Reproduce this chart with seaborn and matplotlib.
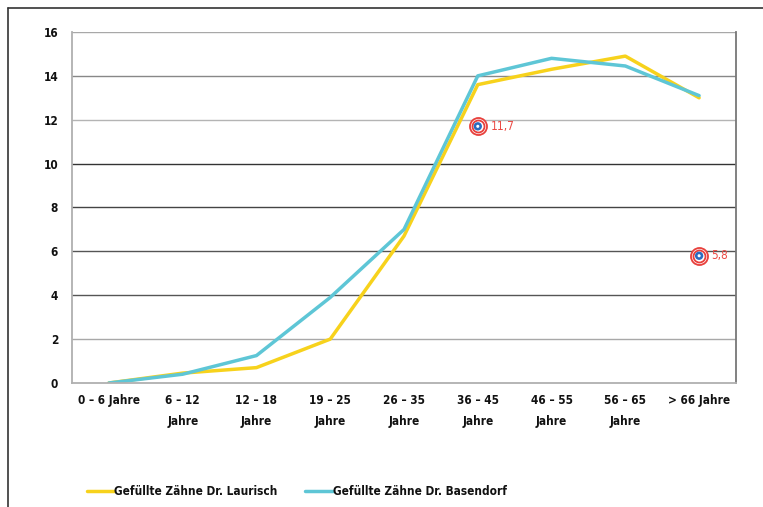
import matplotlib
matplotlib.use("Agg")
import matplotlib.pyplot as plt
from matplotlib.lines import Line2D
import seaborn as sns
import pandas as pd

# Age groups and filled-teeth averages per practice
age_groups = ["0 – 6 Jahre", "6 – 12\nJahre", "12 – 18\nJahre", "19 – 25\nJahre",
              "26 – 35\nJahre", "36 – 45\nJahre", "46 – 55\nJahre", "56 – 65\nJahre",
              "> 66 Jahre"]
laurisch = [0.0, 0.45, 0.7, 2.0, 6.7, 13.6, 14.3, 14.9, 13.0]
basendorf = [0.0, 0.4, 1.25, 3.9, 7.0, 14.0, 14.8, 14.45, 13.1]
series_names = ["Gefüllte Zähne Dr. Laurisch", "Gefüllte Zähne Dr. Basendorf"]

# Reference values highlighted on the chart
ref_groups = ["36 – 45\nJahre", "> 66 Jahre"]
ref_values = [11.7, 5.8]
ref_labels = ["11,7", "5,8"]

y_ticks = [0, 2, 4, 6, 8, 10, 12, 14, 16]

sns.set_style("white")
FONT = ["DejaVu Sans", "Liberation Sans"]
plt.rcParams["font.family"] = FONT
plt.rcParams["font.stretch"] = "condensed"
TXT = "#111111"

df = pd.DataFrame({
    "Altersgruppe": age_groups * 2,
    "Wert": laurisch + basendorf,
    "Serie": [series_names[0]] * len(age_groups) + [series_names[1]] * len(age_groups),
})

fig = plt.figure(figsize=(7.63, 5.07), dpi=100)
ax = fig.add_axes([0.0944, 0.2446, 0.8702, 0.6923])

palette = {series_names[0]: "#f7d21c", series_names[1]: "#5ec6d6"}
sns.lineplot(data=df, x="Altersgruppe", y="Wert", hue="Serie", palette=palette,
             sort=False, linewidth=2.5, ax=ax, legend=False)

# Horizontal gridlines with the uneven grey tones of the original
grid_colors = {2: "#a8a8a8", 4: "#555555", 6: "#555555", 8: "#444444",
               10: "#333333", 12: "#b4b4b4", 14: "#888888", 16: "#a8a8a8"}
for yv, col in grid_colors.items():
    ax.axhline(yv, color=col, linewidth=1.0, zorder=0)

# Highlighted reference markers: red rings around a blue dot
ref_pos = [age_groups.index(g) for g in ref_groups]
for x, y, lab in zip(ref_pos, ref_values, ref_labels):
    ax.scatter([x], [y], s=150, facecolor="white", edgecolor="#e8403c", linewidth=1.3, zorder=5)
    ax.scatter([x], [y], s=75, facecolor="white", edgecolor="#e8403c", linewidth=1.3, zorder=6)
    ax.scatter([x], [y], s=36, facecolor="#2a6cc0", edgecolor="none", zorder=7)
    ax.scatter([x], [y], s=5, facecolor="white", edgecolor="none", zorder=8)
    ax.annotate(lab, (x, y), xytext=(9, 0), textcoords="offset points", va="center",
                ha="left", color="#ec4a44", fontsize=8.5)

ax.set_xlim(-0.5, len(age_groups) - 0.5)
ax.set_ylim(0, 16)
ax.set_yticks(y_ticks)
ax.set_yticklabels([str(v) for v in y_ticks], fontsize=8.5, fontweight="bold", color=TXT)
ax.set_xticks(range(len(age_groups)))
ax.set_xticklabels(age_groups, fontsize=8.5, fontweight="bold", linespacing=1.75, color=TXT)
ax.set_xticks([i - 0.5 for i in range(len(age_groups) + 1)], minor=True)
ax.tick_params(axis="x", which="major", length=0, pad=8)
ax.tick_params(axis="x", which="minor", length=4, color="#888888", width=1)
ax.tick_params(axis="y", length=4, color="#999999", width=1, pad=6)
ax.set_xlabel("")
ax.set_ylabel("")

for side in ["left", "bottom"]:
    ax.spines[side].set_color("#b0b0b0")
    ax.spines[side].set_linewidth(1.3)
ax.spines["top"].set_visible(False)
ax.spines["right"].set_color("#777777")
ax.spines["right"].set_linewidth(1.3)

# Legend below the chart
handles = [Line2D([], [], color=palette[n], linewidth=2.5) for n in series_names]
leg = fig.legend(handles, series_names, loc="center left", bbox_to_anchor=(0.0996, 0.03),
                 ncol=2, frameon=False, handlelength=2.3, handletextpad=0.0,
                 columnspacing=2.4, prop={"weight": "bold", "size": 8.5})
for t in leg.get_texts():
    t.set_color(TXT)

# Outer frame (top and left edges)
fig.add_artist(Line2D([8 / 763, 1.0], [1 - 8 / 507, 1 - 8 / 507],
                      transform=fig.transFigure, color="#333333", linewidth=1.2))
fig.add_artist(Line2D([8 / 763, 8 / 763], [0.0, 1 - 8 / 507],
                      transform=fig.transFigure, color="#333333", linewidth=1.2))

fig.savefig("out.png", dpi=100)
